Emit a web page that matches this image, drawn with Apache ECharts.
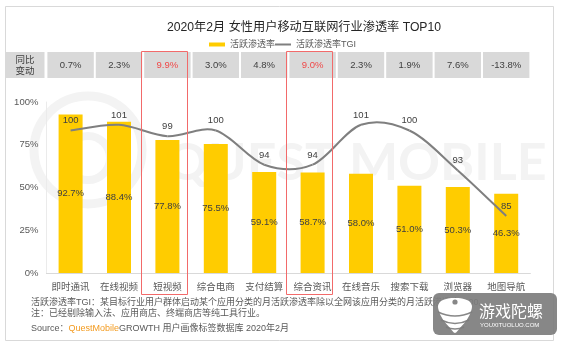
<!DOCTYPE html>
<html>
<head>
<meta charset="utf-8">
<script src="https://cdn.jsdelivr.net/npm/echarts@6/dist/echarts.min.js"></script>
<style>
  html, body { margin: 0; padding: 0; background: #fff; }
  #chart { width: 561px; height: 346px; }
</style>
</head>
<body>
<div id="chart"></div>
<script>
// Industry categories, left to right
const categories = ['即时通讯', '在线视频', '短视频', '综合电商', '支付结算', '综合资讯', '在线音乐', '搜索下载', '浏览器', '地图导航'];
// Monthly active penetration among female users (%)
const activeRate = [92.7, 88.4, 77.8, 75.5, 59.1, 58.7, 58.0, 51.0, 50.3, 46.3];
// Penetration TGI (index, 100 = all-network level)
const tgiIndex = [100, 101, 99, 100, 94, 94, 101, 100, 93, 85];
// Year-on-year change of penetration (%)
const yoyChange = [0.7, 2.3, 9.9, 3.0, 4.8, 9.0, 2.3, 1.9, 7.6, -13.8];
// Categories called out with a red frame
const highlighted = ['短视频', '综合资讯'];
// Left-axis ticks (%)
const rateTicks = [0, 25, 50, 75, 100];

const titleText = '2020年2月 女性用户移动互联网行业渗透率 TOP10';
const noteTgi = '活跃渗透率TGI：某目标行业用户群体启动某个应用分类的月活跃渗透率除以全网该应用分类的月活跃渗透率*100。';
const noteExcl = '注：已经剔除输入法、应用商店、终端商店等纯工具行业。';

const FONT = '"Liberation Sans", "Noto Sans CJK SC", sans-serif';
const LINE_GREY = '#7f7f7f';
const FRAME_RED = '#f26a6a';
const pct = v => v.toFixed(1) + '%';

const chart = echarts.init(document.getElementById('chart'), null, { renderer: 'canvas' });

// One grey cell per category in the year-on-year strip
function renderYoyCell(params, api) {
  const idx = api.value(0);
  const v = api.value(1);
  const cx = api.coord([idx, 0])[0];
  const w = api.size([1, 0])[0];
  const cs = params.coordSys;
  const hot = highlighted.indexOf(categories[idx]) >= 0;
  return {
    type: 'group',
    children: [
      { type: 'rect', shape: { x: cx - w / 2 + 1, y: cs.y, width: w - 2, height: cs.height }, style: { fill: '#d9d9d9' } },
      { type: 'text', style: { text: pct(v), x: cx, y: cs.y + cs.height / 2, align: 'center', verticalAlign: 'middle',
          fill: hot ? '#f04848' : '#404040', fontSize: 9.5, fontFamily: FONT } }
    ]
  };
}

// Red call-out frame spanning the strip, the plot and the category label
function renderCallout(params, api) {
  const cx = api.coord([api.value(0), 0])[0];
  const w = api.size([1, 0])[0];
  const x = Math.round(cx - w / 2) - 1.5;
  return {
    type: 'rect',
    shape: { x: x, y: 51.5, width: Math.round(w) - 2, height: 243 },
    style: { fill: null, stroke: FRAME_RED, lineWidth: 1 }
  };
}

// TGI curve: a cardinal-spline segment from each point to the next, plus its value label
function renderTgiSegment(params, api) {
  const i = params.dataIndex;
  const n = tgiIndex.length;
  const at = k => {
    const j = Math.max(0, Math.min(n - 1, k));
    return api.coord([j, tgiIndex[j]]);
  };
  const p0 = at(i - 1), p1 = at(i), p2 = at(i + 1), p3 = at(i + 2);
  const children = [];
  if (i < n - 1) {
    children.push({
      type: 'bezierCurve',
      shape: {
        x1: p1[0], y1: p1[1], x2: p2[0], y2: p2[1],
        cpx1: p1[0] + (p2[0] - p0[0]) / 6, cpy1: p1[1] + (p2[1] - p0[1]) / 6,
        cpx2: p2[0] - (p3[0] - p1[0]) / 6, cpy2: p2[1] - (p3[1] - p1[1]) / 6
      },
      style: { stroke: LINE_GREY, lineWidth: 2, fill: null }
    });
  }
  children.push({
    type: 'text', z2: 5,
    style: { text: String(api.value(1)), x: p1[0], y: p1[1] - 5, align: 'center', verticalAlign: 'bottom',
      fontSize: 9.5, fontFamily: FONT, fill: '#404040' }
  });
  return { type: 'group', children };
}

const BADGE = 'rgba(125,125,125,0.92)';

chart.setOption({
  animation: false,
  backgroundColor: '#fff',
  textStyle: { fontFamily: FONT },
  title: {
    text: titleText,
    left: 162, top: 17,
    textStyle: { fontSize: 12.2, fontWeight: 'normal', color: '#262626', fontFamily: FONT }
  },
  legend: {
    left: 204, top: 35,
    itemWidth: 16, itemHeight: 4, itemGap: 0,
    textStyle: { fontSize: 9, color: '#595959', fontFamily: FONT },
    data: [
      { name: '活跃渗透率', icon: 'rect' },
      { name: '活跃渗透率TGI', icon: 'path://M0,0H16V2H0Z' }
    ]
  },
  grid: [
    { left: 46.4, right: 30.6, top: 102, height: 171 },
    { left: 46.4, right: 30.6, top: 52, height: 26 }
  ],
  xAxis: [
    {
      type: 'category', gridIndex: 0, data: categories,
      axisLine: { lineStyle: { color: '#d9d9d9' } },
      axisTick: { show: false },
      axisLabel: { fontSize: 9.5, color: '#595959', margin: 10, interval: 0 }
    },
    { type: 'category', gridIndex: 1, data: categories, show: false }
  ],
  yAxis: [
    {
      type: 'value', gridIndex: 0, min: rateTicks[0], max: rateTicks[rateTicks.length - 1],
      interval: rateTicks[1] - rateTicks[0],
      axisLabel: { formatter: '{value}%', fontSize: 9.5, color: '#595959', margin: 8 },
      axisLine: { show: true, lineStyle: { color: '#ebebeb' } },
      axisTick: { show: false },
      splitLine: { show: false }
    },
    { type: 'value', gridIndex: 0, min: 75, max: 105, show: false, splitLine: { show: false } },
    { type: 'value', gridIndex: 1, show: false, splitLine: { show: false } }
  ],
  series: [
    {
      name: '活跃渗透率', type: 'bar', xAxisIndex: 0, yAxisIndex: 0,
      data: activeRate, barWidth: 24, z: 2,
      itemStyle: { color: '#ffcc00' },
      label: { show: true, position: 'inside', formatter: p => pct(p.value), fontSize: 9.5, color: '#404040' }
    },
    {
      name: '活跃渗透率TGI', type: 'custom', xAxisIndex: 0, yAxisIndex: 1,
      data: tgiIndex.map((v, i) => [i, v]),
      encode: { x: 0, y: 1 },
      itemStyle: { color: LINE_GREY },
      renderItem: renderTgiSegment,
      z: 3, silent: true
    },
    {
      name: '同比变动', type: 'custom', xAxisIndex: 1, yAxisIndex: 2,
      data: yoyChange.map((v, i) => [i, v]),
      encode: { x: 0, y: 1 },
      renderItem: renderYoyCell,
      silent: true
    },
    {
      name: '重点', type: 'custom', xAxisIndex: 0, yAxisIndex: 0,
      data: highlighted.map(c => [categories.indexOf(c), 0]),
      encode: { x: 0, y: 1 },
      renderItem: renderCallout,
      z: 10, silent: true, clip: false
    }
  ],
  graphic: [
    // outer frame
    { type: 'rect', shape: { x: 5.5, y: 6.5, width: 548, height: 334 }, style: { fill: 'none', stroke: '#d9d9d9', lineWidth: 1 }, z: 0 },
    // faint brand mark behind the plot
    { type: 'circle', shape: { cx: 88, cy: 150, r: 54 }, style: { fill: 'none', stroke: '#f3f3f3', lineWidth: 9 }, z: 0, silent: true },
    { type: 'circle', shape: { cx: 88, cy: 158, r: 22 }, style: { fill: 'none', stroke: '#f3f3f3', lineWidth: 8 }, z: 0, silent: true },
    { type: 'text', x: 166, y: 163, style: { text: 'QUEST MOBILE', fontSize: 52, fontWeight: 'bold', fontFamily: 'Lato, sans-serif',
        fill: '#f3f3f3', verticalAlign: 'middle' }, z: 0, silent: true },
    // header cell of the strip
    { type: 'rect', shape: { x: 5, y: 52, width: 39.5, height: 26 }, style: { fill: '#d9d9d9' }, z: 1 },
    { type: 'text', x: 25, y: 65.5, style: { text: '同比\n变动', align: 'center', verticalAlign: 'middle', fontSize: 9.5, lineHeight: 11,
        fontFamily: FONT, fill: '#404040' }, z: 1 },
    // notes
    { type: 'text', x: 31, y: 303, style: { text: noteTgi, fontSize: 9, fontFamily: FONT, fill: '#595959', verticalAlign: 'middle' }, z: 1 },
    { type: 'text', x: 31, y: 314, style: { text: noteExcl, fontSize: 9, fontFamily: FONT, fill: '#595959', verticalAlign: 'middle' }, z: 1 },
    { type: 'text', x: 31, y: 329, style: {
        text: '{a|Source：}{b|QuestMobile}{a|GROWTH 用户画像标签数据库 2020年2月}',
        verticalAlign: 'middle',
        rich: {
          a: { fontSize: 9, fontFamily: FONT, fill: '#595959' },
          b: { fontSize: 9, fontFamily: FONT, fill: '#f39a1e' }
        }
      }, z: 1 },
    // site badge, bottom right
    { type: 'rect', shape: { x: 433, y: 293, width: 124, height: 42, r: 6 }, style: { fill: BADGE }, z: 20 },
    { type: 'polygon', shape: { points: [[438, 306], [441, 301], [448, 298.5], [455, 298], [462, 298.5], [469, 301], [472, 306],
        [470, 314], [466, 321], [460, 328], [455, 333], [450, 328], [444, 321], [440, 314]], smooth: 0.3 },
      style: { fill: '#ffffff' }, z: 21 },
    { type: 'bezierCurve', shape: { x1: 438, y1: 312, x2: 472, y2: 312, cpx1: 455, cpy1: 320 }, style: { stroke: BADGE, lineWidth: 1.6, fill: null }, z: 22 },
    { type: 'bezierCurve', shape: { x1: 441, y1: 320, x2: 469, y2: 320, cpx1: 455, cpy1: 327 }, style: { stroke: BADGE, lineWidth: 1.6, fill: null }, z: 22 },
    { type: 'bezierCurve', shape: { x1: 446, y1: 327, x2: 464, y2: 327, cpx1: 455, cpy1: 331 }, style: { stroke: BADGE, lineWidth: 1.4, fill: null }, z: 22 },
    { type: 'circle', shape: { cx: 455, cy: 302, r: 2.6 }, style: { fill: BADGE }, z: 22 },
    { type: 'text', x: 479, y: 311, style: { text: '游戏陀螺', fontSize: 16, fontFamily: '"Noto Sans CJK SC", sans-serif', fill: '#ffffff',
        verticalAlign: 'middle' }, z: 22 },
    { type: 'text', x: 480, y: 325, style: { text: 'YOUXITUOLUO.COM', fontSize: 6, fontFamily: FONT, fill: '#ffffff',
        verticalAlign: 'middle' }, z: 22 }
  ]
});
</script>
</body>
</html>
